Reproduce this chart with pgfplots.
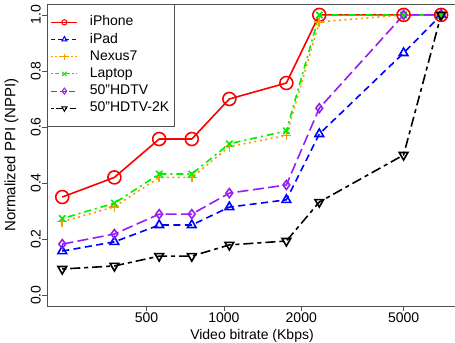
\documentclass[border=0pt]{standalone}
\usepackage{pgfplots}
\pgfplotsset{compat=1.18}
\usepackage{fontspec}
\setmainfont{Liberation Sans}
\definecolor{cRed}{RGB}{255,0,0}
\definecolor{cBlue}{RGB}{0,0,255}
\definecolor{cOrange}{RGB}{255,153,0}
\definecolor{cGreen}{RGB}{0,238,0}
\definecolor{cPurple}{RGB}{150,30,240}
\definecolor{axgray}{RGB}{80,80,80}
\begin{document}
\begin{tikzpicture}
\useasboundingbox (-47bp,-37bp) rectangle (408bp,306bp);
\begin{axis}[
  scale only axis,
  width=410bp, height=302bp,
  xmode=log,
  xmin=205, xmax=8070,
  ymin=-0.039, ymax=1.039,
  axis line style={axgray, line width=0.8bp},
  tick style={axgray, line width=0.8bp},
  tick align=outside,
  major tick length=5bp,
  xtick pos=bottom, ytick pos=left,
  xtick={500,1000,2000,5000},
  xticklabels={500,1000,2000,5000},
  minor xtick={},
  ytick={0,0.2,0.4,0.6,0.8,1.0},
  yticklabels={0.0,0.2,0.4,0.6,0.8,1.0},
  /pgf/number format/assume math mode=true,
  ticklabel style={font=\fontsize{14bp}{16bp}\selectfont},
  yticklabel style={rotate=90, anchor=south, inner sep=1bp},
  xticklabel style={anchor=north, inner sep=0bp, yshift=-2bp},
  xlabel={Video bitrate (Kbps)},
  ylabel={Normalized PPI (NPPI)},
  label style={font=\fontsize{14bp}{16bp}\selectfont},
  xlabel style={at={(axis description cs:0.5,0)}, anchor=north, inner sep=0bp, yshift=-23bp},
  ylabel style={at={(axis description cs:0,0.5)}, anchor=south, yshift=25bp, font=\fontsize{15bp}{17bp}\selectfont},
  legend cell align=left,
  legend style={at={(0,1)}, anchor=north west, draw=axgray, line width=0.8bp,
    font=\fontsize{14bp}{16bp}\selectfont, inner xsep=3.5bp, inner ysep=9.5bp,
    nodes={inner xsep=1.5bp, inner ysep=2bp, text height=10bp, text depth=2.8bp},
    column sep=10.5bp, row sep=0.4bp},
  legend image code/.code={\draw[mark repeat=2, mark phase=2] plot coordinates {(0bp,0bp) (13bp,0bp) (26bp,0bp)};},
  every axis plot/.append style={line width=1.6bp},
  clip=false,
]
\addlegendimage{cRed, solid, line width=1bp, mark=o, mark size=2.6bp, mark options={solid}}
\addlegendentry{iPhone}
\addlegendimage{cBlue, dash pattern=on 4bp off 3bp, line width=1bp, mark=triangle, mark size=3bp, mark options={solid}}
\addlegendentry{iPad}
\addlegendimage{cOrange, dash pattern=on 1.5bp off 2.5bp, line width=1bp, mark=+, mark size=3bp, mark options={solid}}
\addlegendentry{Nexus7}
\addlegendimage{cGreen, dash pattern=on 1.5bp off 2.5bp on 4bp off 2.5bp, line width=1bp, mark=x, mark size=3bp, mark options={solid}}
\addlegendentry{Laptop}
\addlegendimage{cPurple, dash pattern=on 6bp off 3bp, line width=1bp, mark=diamond, mark size=3bp, mark options={solid}}
\addlegendentry{50"HDTV}
\addlegendimage{black, dash pattern=on 2.5bp off 2.5bp on 6bp off 2.5bp, line width=1bp, mark=triangle, mark size=3bp, mark options={solid, rotate=180}}
\addlegendentry{50"HDTV-2K}

\addplot[forget plot, cRed, solid, mark=o, mark size=6.5bp, mark options={solid}] coordinates {
(235,0.35) (375,0.42) (560,0.557) (750,0.557) (1050,0.70) (1750,0.757) (2350,1.0) (5000,1.0) (7000,1.0)};
\addplot[forget plot, cBlue, dash pattern=on 7bp off 4.5bp, mark=triangle, mark size=5bp, mark options={solid}] coordinates {
(235,0.157) (375,0.19) (560,0.25) (750,0.25) (1050,0.314) (1750,0.34) (2350,0.575) (5000,0.864) (7000,1.0)};
\addplot[forget plot, cOrange, dash pattern=on 2bp off 3.5bp, mark=+, mark size=5bp, mark options={solid}] coordinates {
(235,0.262) (375,0.315) (560,0.42) (750,0.42) (1050,0.53) (1750,0.57) (2350,0.975) (5000,1.0) (7000,1.0)};
\addplot[forget plot, cGreen, dash pattern=on 2bp off 4bp on 7bp off 4bp, mark=x, mark size=4.5bp, mark options={solid}] coordinates {
(235,0.273) (375,0.328) (560,0.432) (750,0.432) (1050,0.54) (1750,0.586) (2350,1.0) (5000,1.0) (7000,1.0)};
\addplot[forget plot, cPurple, dash pattern=on 11bp off 4.5bp, mark=diamond, mark size=4.5bp, mark options={solid}] coordinates {
(235,0.182) (375,0.218) (560,0.289) (750,0.289) (1050,0.364) (1750,0.393) (2350,0.667) (5000,1.0) (7000,1.0)};
\addplot[forget plot, black, dash pattern=on 4bp off 4bp on 10bp off 4bp, mark=triangle, mark size=5bp, mark options={solid, rotate=180}] coordinates {
(235,0.093) (375,0.104) (560,0.139) (750,0.139) (1050,0.179) (1750,0.193) (2350,0.332) (5000,0.5) (7000,1.0)};
\end{axis}
\end{tikzpicture}
\end{document}
